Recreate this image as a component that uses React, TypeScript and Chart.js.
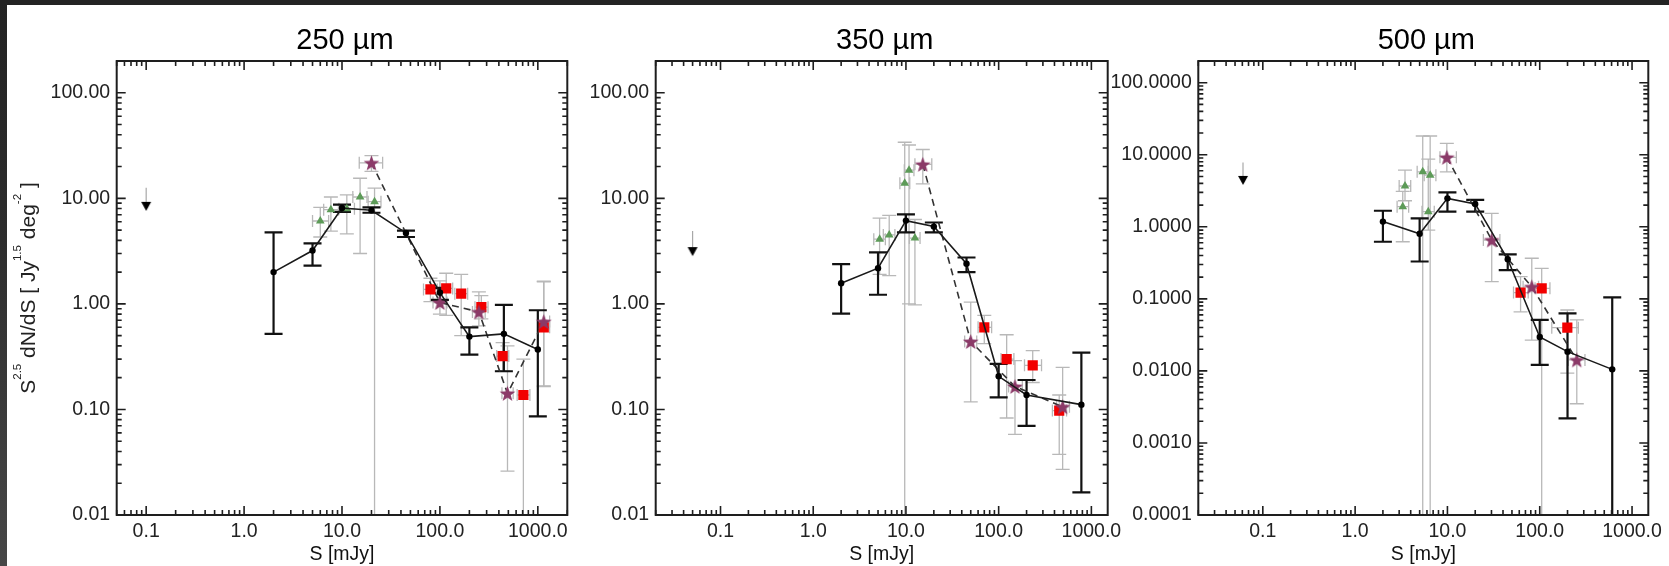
import React, { useEffect, useRef } from "react";
import { Chart, registerables } from "chart.js";

Chart.register(...registerables);

const FONT = "'Liberation Sans', Arial, Helvetica, sans-serif";
const LOW = 1e-6; // lower error end that runs off the bottom of the axis

// ---------- axes / text ----------
const xTickValues = [0.1, 1, 10, 100, 1000];
const yTickValuesA = [0.01, 0.1, 1, 10, 100];
const yTickValuesB = [0.0001, 0.001, 0.01, 0.1, 1, 10, 100];
const panelTitles = ["250 \u00b5m", "350 \u00b5m", "500 \u00b5m"];
const xAxisTitle = "S [mJy]";
const yTitleParts: [string, boolean][] = [
  ["S", false], ["2.5", true], [" dN/dS [ Jy", false], ["1.5", true], [" deg", false], ["-2", true], [" ]", false],
];

// ---------- 250 um ----------
const s250S = [2, 5, 10, 20, 45, 100, 200, 450, 1000];
const s250V = [2.0, 3.2, 8.1, 7.7, 4.7, 1.28, 0.49, 0.52, 0.37];
const s250Lo = [0.52, 2.3, 7.45, 7.3, 4.3, 1.09, 0.33, 0.23, 0.086];
const s250Hi = [4.75, 3.75, 8.7, 8.2, 4.95, 1.42, 0.6, 0.98, 0.87];
const ul250S = [0.1];
const ul250V = [8.4];
const ul250Top = [12.6];
const tri250S = [6.0, 7.7, 11.2, 15.3, 21.5];
const tri250V = [6.1, 7.8, 7.95, 10.3, 9.3];
const tri250YLo = [4.3, 4.9, 4.6, 3.0, LOW];
const tri250YHi = [8.2, 10.3, 10.8, 15.5, 12.5];
const tri250XLo = [5.0, 6.5, 9.3, 12.9, 18.5];
const tri250XHi = [7.3, 9.2, 13.4, 18.0, 25.0];
const star250S = [20, 100, 250, 490, 1150];
const star250V = [21.7, 1.03, 0.84, 0.142, 0.68];
const star250YLo = [18.0, 0.8, 0.62, 0.026, 0.167];
const star250YHi = [25.4, 1.65, 1.3, 0.4, 1.64];
const star250XLo = [15, 85, 215, 430, 1010];
const star250XHi = [26, 118, 290, 560, 1320];
const sq250S = [80, 116, 165, 265, 437, 712, 1150];
const sq250V = [1.37, 1.4, 1.25, 0.93, 0.32, 0.137, 0.6];
const sq250YLo = [1.05, 0.78, 0.5, 0.72, 0.23, LOW, 0.165];
const sq250YHi = [1.75, 1.95, 1.9, 1.2, 0.43, 0.3, 1.62];
const sq250XLo = [68, 100, 142, 228, 380, 615, 1010];
const sq250XHi = [94, 135, 192, 310, 505, 830, 1320];

// ---------- 350 um ----------
const s350S = [2, 5, 10, 20, 45, 100, 200, 780];
const s350V = [1.57, 2.18, 6.15, 5.4, 2.4, 0.206, 0.137, 0.111];
const s350Lo = [0.81, 1.22, 4.75, 4.75, 2.0, 0.13, 0.07, 0.0164];
const s350Hi = [2.38, 3.08, 7.05, 5.9, 2.75, 0.27, 0.19, 0.345];
const ul350S = [0.05];
const ul350V = [3.13];
const ul350Top = [4.9];
const tri350S = [5.2, 6.6, 9.7, 10.8, 12.5];
const tri350V = [4.1, 4.5, 13.9, 18.5, 4.2];
const tri350YLo = [1.9, 1.85, LOW, 1.0, 0.98];
const tri350YHi = [6.5, 6.9, 34, 32, 6.3];
const tri350XLo = [4.5, 5.7, 8.6, 9.6, 10.9];
const tri350XHi = [6.0, 7.6, 11.0, 12.2, 14.2];
const star350S = [15.2, 50, 150, 490];
const star350V = [21, 0.44, 0.165, 0.106];
const star350YLo = [13.7, 0.118, 0.058, 0.027];
const star350YHi = [29, 1.04, 0.29, 0.25];
const star350XLo = [12.5, 43, 128, 420];
const star350XHi = [19, 58, 180, 580];
const sq350S = [70, 122, 233, 450];
const sq350V = [0.6, 0.3, 0.262, 0.0975];
const sq350YLo = [0.42, 0.083, 0.18, 0.0375];
const sq350YHi = [0.78, 0.51, 0.36, 0.137];
const sq350XLo = [60, 106, 190, 380];
const sq350XHi = [84, 146, 290, 540];

// ---------- 500 um ----------
const s500S = [2, 5, 10, 20, 45, 100, 200, 610];
const s500V = [1.18, 0.8, 2.48, 2.08, 0.354, 0.0295, 0.0185, 0.0105];
const s500Lo = [0.62, 0.33, 1.62, 1.62, 0.25, 0.0121, 0.0022, LOW];
const s500Hi = [1.67, 1.31, 3.0, 2.36, 0.415, 0.051, 0.063, 0.105];
const ul500S = [0.061];
const ul500V = [4.4];
const ul500Top = [7.8];
const tri500S = [3.47, 3.28, 5.4, 6.5, 6.2];
const tri500V = [3.68, 1.9, 5.8, 5.2, 1.62];
const tri500YLo = [2.3, 0.62, LOW, LOW, 0.9];
const tri500YHi = [6.1, 3.1, 18.2, 18.2, 8.7];
const tri500XLo = [3.0, 2.85, 4.7, 5.6, 5.3];
const tri500XHi = [4.0, 3.8, 6.2, 7.5, 7.2];
const star500S = [9.85, 30.2, 82, 252];
const star500V = [9.2, 0.656, 0.147, 0.0142];
const star500YLo = [5.8, 0.173, 0.0268, 0.0035];
const star500YHi = [14.4, 1.54, 0.366, 0.051];
const star500XLo = [8.3, 24.5, 66, 204];
const star500XHi = [12.5, 37, 97, 309];
const sq500S = [62, 105, 199];
const sq500V = [0.122, 0.14, 0.0398];
const sq500YLo = [0.066, LOW, 0.0093];
const sq500YHi = [0.203, 0.265, 0.07];
const sq500XLo = [52, 89, 135];
const sq500XHi = [75, 129, 262];

// ---------- panel layout ----------
type Err = { s: number[]; v: number[]; yLo: number[]; yHi: number[]; xLo?: number[]; xHi?: number[] };
type Panel = {
  title: string; xMin: number; xMax: number; yMin: number; yMax: number; yTicks: number[]; yDec: number;
  left: number; right: number; yTitle: boolean;
  black: Err; ul: { s: number[]; v: number[]; top: number[] }; tri: Err; star: Err; sq: Err;
};

const PANELS: Panel[] = [
  {
    title: panelTitles[0], xMin: 0.05, xMax: 2000, yMin: 0.01, yMax: 200, yTicks: yTickValuesA, yDec: 2,
    left: 116.7, right: 567.3, yTitle: true,
    black: { s: s250S, v: s250V, yLo: s250Lo, yHi: s250Hi },
    ul: { s: ul250S, v: ul250V, top: ul250Top },
    tri: { s: tri250S, v: tri250V, yLo: tri250YLo, yHi: tri250YHi, xLo: tri250XLo, xHi: tri250XHi },
    star: { s: star250S, v: star250V, yLo: star250YLo, yHi: star250YHi, xLo: star250XLo, xHi: star250XHi },
    sq: { s: sq250S, v: sq250V, yLo: sq250YLo, yHi: sq250YHi, xLo: sq250XLo, xHi: sq250XHi },
  },
  {
    title: panelTitles[1], xMin: 0.02, xMax: 1500, yMin: 0.01, yMax: 200, yTicks: yTickValuesA, yDec: 2,
    left: 655.7, right: 1107.7, yTitle: false,
    black: { s: s350S, v: s350V, yLo: s350Lo, yHi: s350Hi },
    ul: { s: ul350S, v: ul350V, top: ul350Top },
    tri: { s: tri350S, v: tri350V, yLo: tri350YLo, yHi: tri350YHi, xLo: tri350XLo, xHi: tri350XHi },
    star: { s: star350S, v: star350V, yLo: star350YLo, yHi: star350YHi, xLo: star350XLo, xHi: star350XHi },
    sq: { s: sq350S, v: sq350V, yLo: sq350YLo, yHi: sq350YHi, xLo: sq350XLo, xHi: sq350XHi },
  },
  {
    title: panelTitles[2], xMin: 0.02, xMax: 1500, yMin: 0.0001, yMax: 200, yTicks: yTickValuesB, yDec: 4,
    left: 1198.3, right: 1648.3, yTitle: false,
    black: { s: s500S, v: s500V, yLo: s500Lo, yHi: s500Hi },
    ul: { s: ul500S, v: ul500V, top: ul500Top },
    tri: { s: tri500S, v: tri500V, yLo: tri500YLo, yHi: tri500YHi, xLo: tri500XLo, xHi: tri500XHi },
    star: { s: star500S, v: star500V, yLo: star500YLo, yHi: star500YHi, xLo: star500XLo, xHi: star500XHi },
    sq: { s: sq500S, v: sq500V, yLo: sq500YLo, yHi: sq500YHi, xLo: sq500XLo, xHi: sq500XHi },
  },
];

const W = 1669;
const H = 566;
const BOX_TOP = 61;
const BOX_BOTTOM = 515;
const YAXIS_W = 100;

const pts = (xs: number[], ys: number[]) => xs.map((x, i) => ({ x, y: ys[i] }));

function makeStar(color: string, R: number, r: number) {
  const size = Math.ceil(R * 2 + 2);
  const c = document.createElement("canvas");
  c.width = size;
  c.height = size;
  const g = c.getContext("2d")!;
  g.fillStyle = color;
  g.beginPath();
  for (let k = 0; k < 10; k++) {
    const rad = k % 2 === 0 ? R : r;
    const a = -Math.PI / 2 + (k * Math.PI) / 5;
    const px = size / 2 + rad * Math.cos(a);
    const py = size / 2 + rad * Math.sin(a) + 0.8;
    if (k === 0) g.moveTo(px, py);
    else g.lineTo(px, py);
  }
  g.closePath();
  g.fill();
  return c;
}

function makeDownTriangle(color: string, w: number, h: number) {
  const c = document.createElement("canvas");
  c.width = Math.ceil(w + 2);
  c.height = Math.ceil(h + 2);
  const g = c.getContext("2d")!;
  g.fillStyle = color;
  g.beginPath();
  g.moveTo(1, 1);
  g.lineTo(1 + w, 1);
  g.lineTo(1 + w / 2, 1 + h);
  g.closePath();
  g.fill();
  return c;
}

const errorBarPlugin = {
  id: "errorBars",
  beforeDatasetsDraw(chart: any) {
    const { ctx, chartArea: a, scales } = chart;
    const xs = scales.x;
    const ys = scales.y;
    ctx.save();
    ctx.beginPath();
    ctx.rect(a.left, a.top, a.right - a.left, a.bottom - a.top);
    ctx.clip();
    const sets = chart.data.datasets as any[];
    for (const pass of ["gray", "black"]) {
      for (const ds of sets) {
        if (ds.arrowTop && pass === "gray") {
          ctx.strokeStyle = "#a8a8a8";
          ctx.lineWidth = 1.2;
          ds.data.forEach((d: any, i: number) => {
            const px = xs.getPixelForValue(d.x);
            ctx.beginPath();
            ctx.moveTo(px, ys.getPixelForValue(ds.arrowTop[i]));
            ctx.lineTo(px, ys.getPixelForValue(d.y) - 4);
            ctx.stroke();
          });
        }
        if (ds.errStyle !== pass || !ds.err) continue;
        const e: Err = ds.err;
        const black = pass === "black";
        ctx.strokeStyle = black ? "#111" : "#b8b8b8";
        ctx.lineWidth = black ? 2.2 : 1.3;
        const cap = black ? 9 : 7;
        const xcap = 6;
        e.s.forEach((sv, i) => {
          const px = xs.getPixelForValue(sv);
          const py = ys.getPixelForValue(e.v[i]);
          const yl = ys.getPixelForValue(e.yLo[i]);
          const yh = ys.getPixelForValue(e.yHi[i]);
          ctx.beginPath();
          ctx.moveTo(px, yl);
          ctx.lineTo(px, yh);
          ctx.moveTo(px - cap, yl);
          ctx.lineTo(px + cap, yl);
          ctx.moveTo(px - cap, yh);
          ctx.lineTo(px + cap, yh);
          if (e.xLo && e.xHi) {
            const xl = xs.getPixelForValue(e.xLo[i]);
            const xh = xs.getPixelForValue(e.xHi[i]);
            ctx.moveTo(xl, py);
            ctx.lineTo(xh, py);
            ctx.moveTo(xl, py - xcap);
            ctx.lineTo(xl, py + xcap);
            ctx.moveTo(xh, py - xcap);
            ctx.lineTo(xh, py + xcap);
          }
          ctx.stroke();
        });
      }
    }
    ctx.restore();
  },
};

function makeFramePlugin(p: Panel) {
  return {
    id: "panelFrame",
    afterDatasetsDraw(chart: any) {
      const { ctx, chartArea: a, scales } = chart;
      ctx.save();
      ctx.strokeStyle = "#1e1e1e";
      ctx.lineWidth = 1.6;
      const tickSet = (scale: any, min: number, max: number, horiz: boolean) => {
        const k0 = Math.floor(Math.log10(min));
        const k1 = Math.ceil(Math.log10(max));
        for (let k = k0; k <= k1; k++) {
          for (let m = 1; m <= 9; m++) {
            const v = m * Math.pow(10, k);
            if (v < min * 0.9999 || v > max * 1.0001) continue;
            const len = m === 1 ? 9 : 5;
            const q = scale.getPixelForValue(v);
            ctx.beginPath();
            if (horiz) {
              ctx.moveTo(q, a.bottom);
              ctx.lineTo(q, a.bottom - len);
              ctx.moveTo(q, a.top);
              ctx.lineTo(q, a.top + len);
            } else {
              ctx.moveTo(a.left, q);
              ctx.lineTo(a.left + len, q);
              ctx.moveTo(a.right, q);
              ctx.lineTo(a.right - len, q);
            }
            ctx.stroke();
          }
        }
      };
      tickSet(scales.x, p.xMin, p.xMax, true);
      tickSet(scales.y, p.yMin, p.yMax, false);
      ctx.lineWidth = 2;
      ctx.strokeRect(a.left, a.top, a.right - a.left, a.bottom - a.top);
      ctx.restore();
    },
    afterDraw(chart: any) {
      const { ctx, chartArea: a } = chart;
      ctx.save();
      ctx.fillStyle = "#000";
      ctx.textAlign = "center";
      ctx.textBaseline = "alphabetic";
      ctx.font = `29px ${FONT}`;
      ctx.fillText(p.title, (a.left + a.right) / 2 + 3, 48.7);
      if (p.yTitle) {
        const F = 21;
        const f = 11.5;
        ctx.translate(34.5, (BOX_TOP + BOX_BOTTOM) / 2);
        ctx.rotate(-Math.PI / 2);
        ctx.textAlign = "left";
        ctx.fillStyle = "#222";
        let total = 0;
        const widths = yTitleParts.map(([t, sup]) => {
          ctx.font = `${sup ? f : F}px ${FONT}`;
          const w = ctx.measureText(t).width;
          total += w;
          return w;
        });
        let xx = -total / 2;
        yTitleParts.forEach(([t, sup], i) => {
          ctx.font = `${sup ? f : F}px ${FONT}`;
          ctx.fillText(t, xx, sup ? -14 : 0);
          xx += widths[i];
        });
      }
      ctx.restore();
    },
  };
}

function buildConfig(p: Panel, starImg: HTMLCanvasElement, triImg: HTMLCanvasElement): any {
  return {
    type: "scatter",
    data: {
      datasets: [
        {
          label: "counts",
          data: pts(p.black.s, p.black.v),
          showLine: true,
          borderColor: "#1a1a1a",
          borderWidth: 1.6,
          pointRadius: 3.2,
          pointBackgroundColor: "#000",
          pointBorderWidth: 0,
          order: 0,
          errStyle: "black",
          err: p.black,
        },
        {
          label: "upper limit",
          data: pts(p.ul.s, p.ul.v),
          pointStyle: triImg,
          pointRadius: 6,
          order: 1,
          arrowTop: p.ul.top,
        },
        {
          label: "stars",
          data: pts(p.star.s, p.star.v),
          pointStyle: starImg,
          pointRadius: 8,
          order: 2,
          errStyle: "gray",
          err: p.star,
        },
        {
          label: "triangles",
          data: pts(p.tri.s, p.tri.v),
          pointStyle: "triangle",
          pointRadius: 5,
          pointBackgroundColor: "#5d9b58",
          pointBorderColor: "#5d9b58",
          pointBorderWidth: 0,
          order: 3,
          errStyle: "gray",
          err: p.tri,
        },
        {
          label: "squares",
          data: pts(p.sq.s, p.sq.v),
          pointStyle: "rect",
          pointRadius: 7.2,
          pointBackgroundColor: "#f20000",
          pointBorderColor: "#f20000",
          pointBorderWidth: 0,
          order: 4,
          errStyle: "gray",
          err: p.sq,
        },
        {
          label: "stars line",
          data: pts(p.star.s, p.star.v),
          showLine: true,
          borderDash: [7, 5],
          borderColor: "#333",
          borderWidth: 1.6,
          pointRadius: 0,
          order: 5,
        },
      ],
    },
    options: {
      responsive: false,
      animation: false,
      devicePixelRatio: 1,
      events: [],
      layout: {
        autoPadding: false,
        padding: { left: p.left - YAXIS_W, right: W - p.right, top: BOX_TOP, bottom: 0 },
      },
      plugins: { legend: { display: false }, tooltip: { enabled: false } },
      scales: {
        x: {
          type: "logarithmic",
          position: "bottom",
          min: p.xMin,
          max: p.xMax,
          grid: { display: false, drawTicks: false },
          border: { display: false },
          ticks: {
            color: "#222",
            font: { size: 19.5, family: FONT },
            padding: 5,
            maxRotation: 0,
            autoSkip: false,
            callback: (v: any) => Number(v).toFixed(1),
          },
          afterBuildTicks: (s: any) => {
            s.ticks = xTickValues.map((v) => ({ value: v }));
            s.min = p.xMin;
            s.max = p.xMax;
          },
          afterFit: (s: any) => {
            s.height = H - BOX_BOTTOM;
          },
          title: {
            display: true,
            text: xAxisTitle,
            color: "#111",
            font: { size: 19.5, family: FONT, lineHeight: 1.15 },
            padding: { top: 0, bottom: 0 },
          },
        },
        y: {
          type: "logarithmic",
          position: "left",
          min: p.yMin,
          max: p.yMax,
          grid: { display: false, drawTicks: false },
          border: { display: false },
          ticks: {
            color: "#222",
            font: { size: 19.5, family: FONT },
            padding: 6.5,
            autoSkip: false,
            callback: (v: any) => Number(v).toFixed(p.yDec),
          },
          afterBuildTicks: (s: any) => {
            s.ticks = p.yTicks.map((v) => ({ value: v }));
            s.min = p.yMin;
            s.max = p.yMax;
          },
          afterFit: (s: any) => {
            s.width = YAXIS_W;
          },
        },
      },
    },
    plugins: [errorBarPlugin, makeFramePlugin(p)],
  };
}

export default function App() {
  const r0 = useRef<HTMLCanvasElement>(null);
  const r1 = useRef<HTMLCanvasElement>(null);
  const r2 = useRef<HTMLCanvasElement>(null);

  useEffect(() => {
    document.body.style.margin = "0";
    Chart.defaults.font.family = FONT;
    const starImg = makeStar("#8b3a68", 8.3, 3.4);
    const triImg = makeDownTriangle("#000", 10, 9);
    const refs = [r0, r1, r2];
    const charts = PANELS.map(
      (p, i) => new Chart(refs[i].current as HTMLCanvasElement, buildConfig(p, starImg, triImg))
    );
    return () => charts.forEach((c) => c.destroy());
  }, []);

  const cs: React.CSSProperties = { position: "absolute", left: 0, top: 0 };
  return (
    <div style={{ position: "fixed", left: 0, top: 0, width: W, height: H, background: "#fff", overflow: "hidden" }}>
      <div style={{ position: "absolute", left: 0, top: 0, width: W, height: 5, background: "#232323" }} />
      <div
        style={{
          position: "absolute", left: 0, top: 0, width: 7, height: H,
          background: "linear-gradient(#232323, #2c2c2c 40%, #474747)",
        }}
      />
      <canvas ref={r0} width={W} height={H} style={cs} />
      <canvas ref={r1} width={W} height={H} style={cs} />
      <canvas ref={r2} width={W} height={H} style={cs} />
    </div>
  );
}
